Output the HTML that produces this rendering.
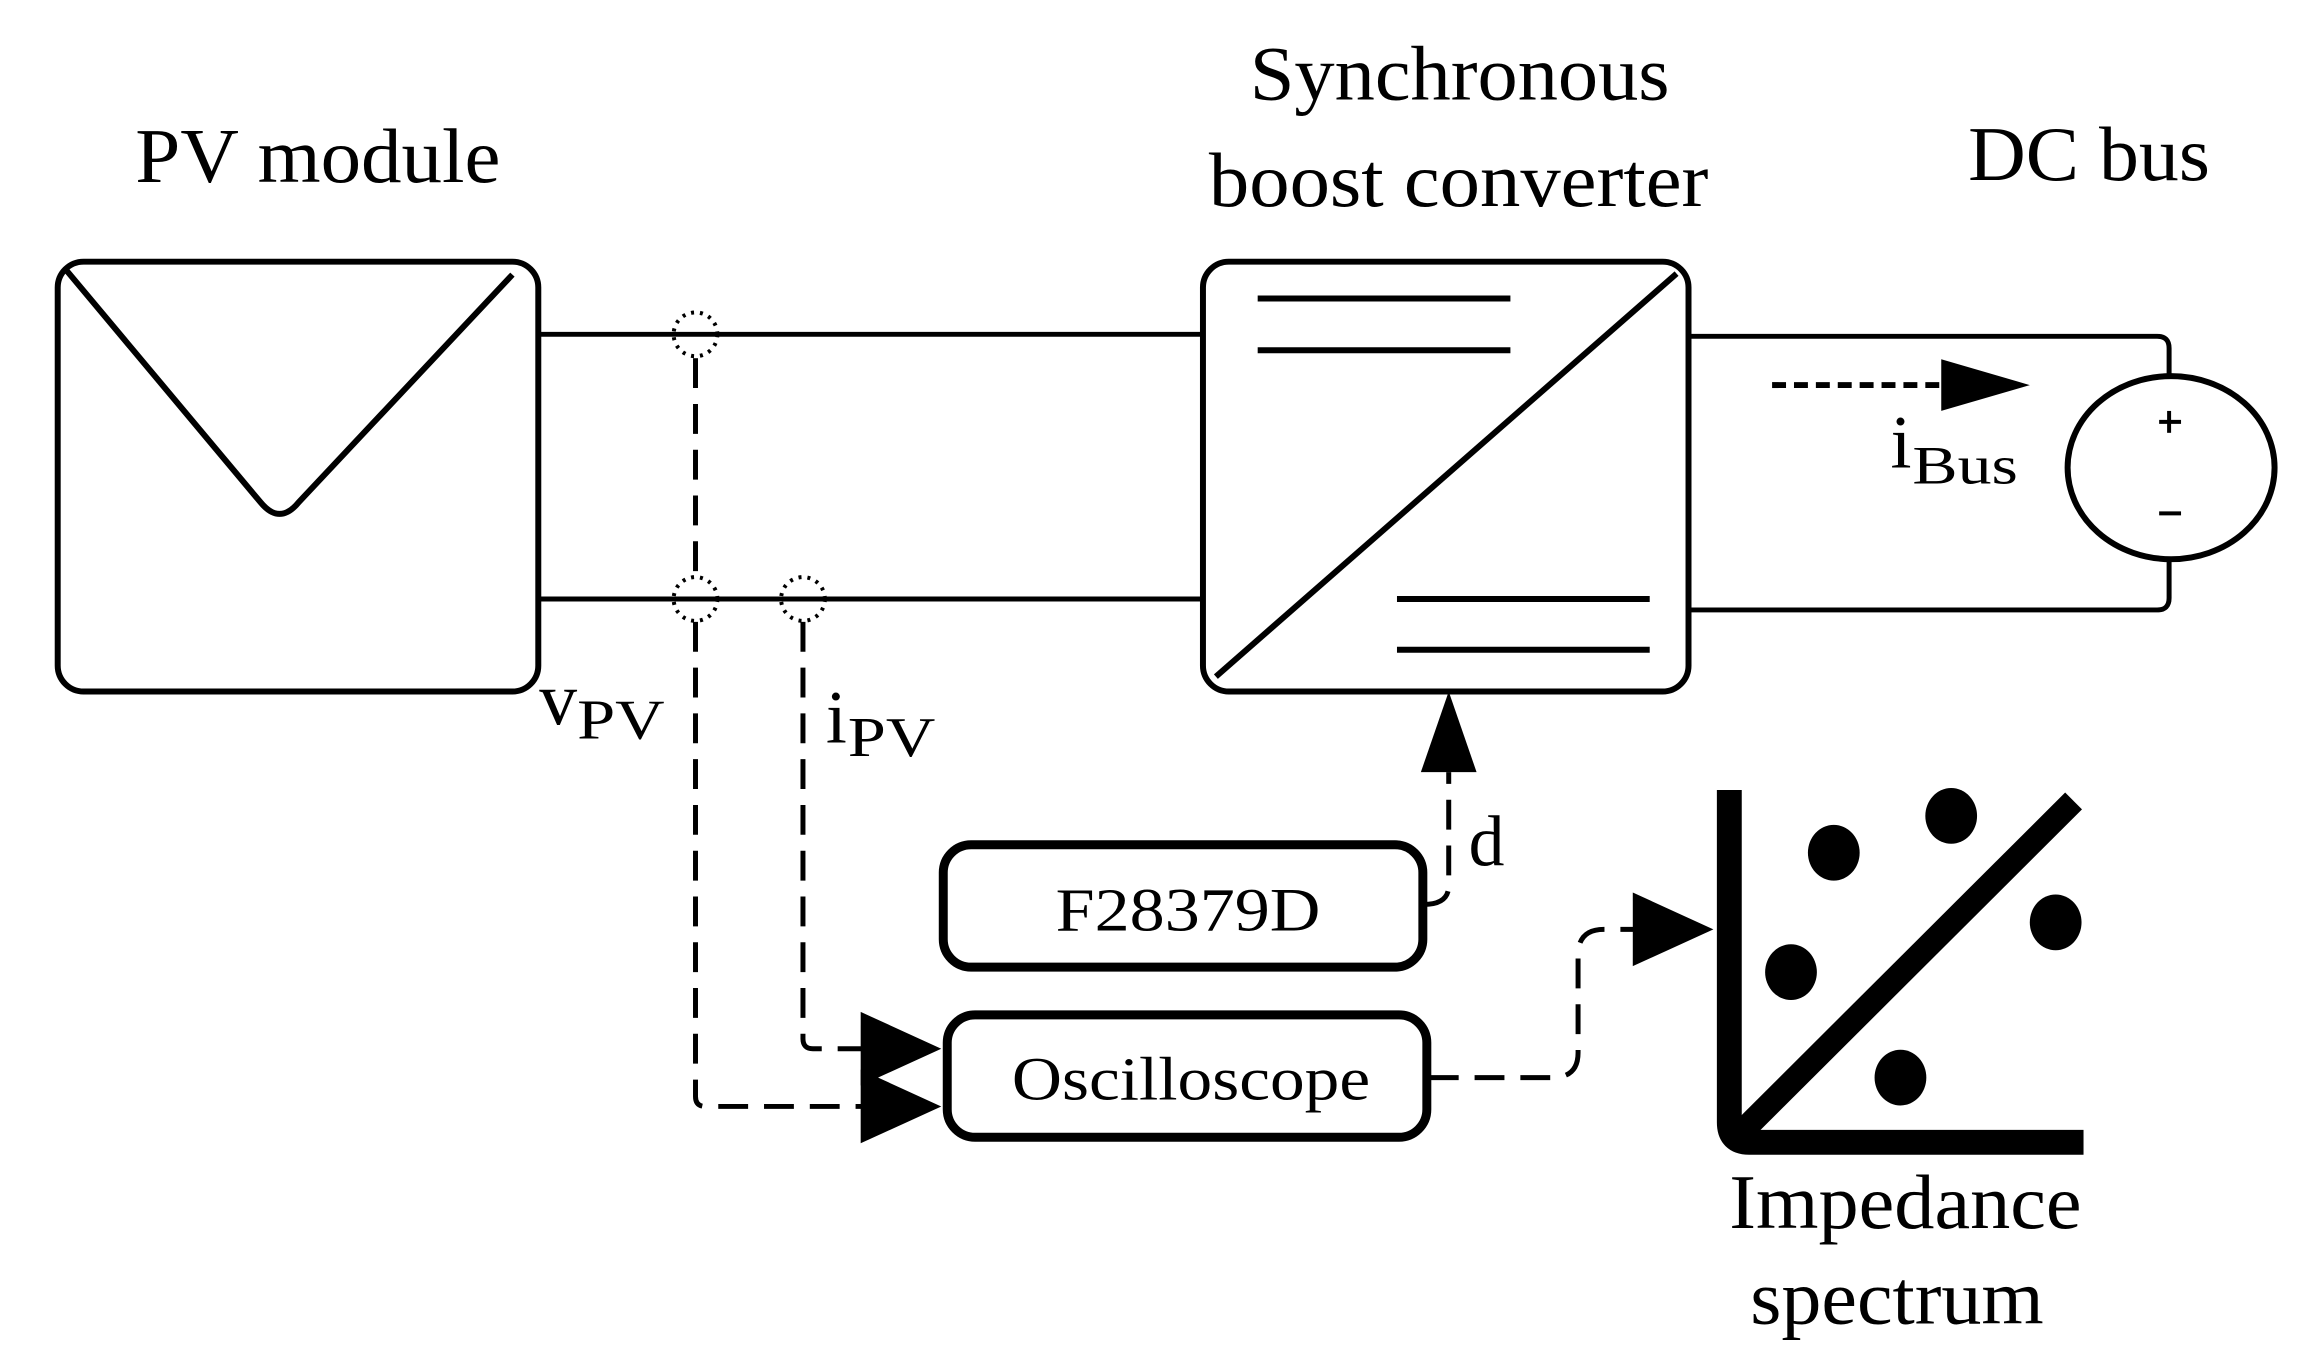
<!DOCTYPE html>
<html><head><meta charset="utf-8"><style>html,body{margin:0;padding:0;background:#fff}svg{display:block}</style></head>
<body>
<svg width="2306" height="1367" viewBox="0 0 2306 1367" xmlns="http://www.w3.org/2000/svg" font-family="Liberation Serif, serif">
<g transform="scale(0.995)">
<g fill="none" stroke="#000" stroke-width="6">
<rect x="58" y="263" width="483" height="432" rx="26"/>
<path d="M67 272 L262 505 Q281 528 300 505 L515 276" stroke-width="6"/>
<line x1="541" y1="336" x2="1209" y2="336" stroke-width="5"/>
<line x1="541" y1="602" x2="1209" y2="602" stroke-width="5"/>
<rect x="1209" y="263" width="488" height="432" rx="26"/>
<line x1="1222" y1="680" x2="1685" y2="275"/>
<line x1="1264" y1="300" x2="1518" y2="300"/>
<line x1="1264" y1="352" x2="1518" y2="352"/>
<line x1="1404" y1="602" x2="1658" y2="602"/>
<line x1="1404" y1="653" x2="1658" y2="653"/>
<path d="M1697 338 H2168 Q2180 338 2180 350 V378" stroke-width="5"/>
<path d="M1697 613 H2168 Q2180 613 2180 601 V562" stroke-width="5"/>
<ellipse cx="2182" cy="470" rx="104" ry="92"/>
<line x1="2170" y1="424" x2="2192" y2="424" stroke-width="4"/>
<line x1="2180" y1="413" x2="2180" y2="435" stroke-width="4"/>
<line x1="2170" y1="516" x2="2192" y2="516" stroke-width="4"/>
<line x1="1781" y1="387" x2="1955" y2="387" stroke-dasharray="14 8"/>
<g stroke-width="4" stroke-dasharray="3 6">
<circle cx="699" cy="336" r="22"/>
<circle cx="699" cy="602" r="22"/>
<circle cx="807" cy="602" r="22"/>
</g>
<path d="M699 360 V580" stroke-dasharray="30 16" stroke-width="5"/>
<path d="M699 625 V1102 Q699 1112 709 1112 H870" stroke-dasharray="30 16" stroke-width="5"/>
<path d="M807 625 V1044 Q807 1054 817 1054 H870" stroke-dasharray="30 16" stroke-width="5"/>
<rect x="948" y="849" width="482" height="123" rx="28" stroke-width="9"/>
<path d="M1431 909 Q1456 909 1456 890 V776" stroke-dasharray="30 16" stroke-width="5"/>
<rect x="952" y="1020" width="482" height="123" rx="28" stroke-width="9"/>
<path d="M1436 1083 H1560 Q1586 1083 1586 1058 V960 Q1586 934 1612 934 H1645" stroke-dasharray="30 16" stroke-width="5"/>
<path d="M1738 794 V1128 Q1738 1148 1758 1148 H2094" stroke-width="25"/>
<line x1="1748" y1="1140" x2="2084" y2="805" stroke-width="24"/>
</g>
<g fill="#000">
<polygon points="1951,361 2040,387 1951,413"/>
<polygon points="1428,776 1456,695 1484,776"/>
<polygon points="865,1017 946,1054 865,1091"/>
<polygon points="865,1075 946,1112 865,1149"/>
<polygon points="1641,897 1722,934 1641,971"/>
<ellipse cx="1843" cy="857" rx="26" ry="28"/>
<ellipse cx="1961" cy="820" rx="26" ry="28"/>
<ellipse cx="2066" cy="927" rx="26" ry="28"/>
<ellipse cx="1800" cy="977" rx="26" ry="28"/>
<ellipse cx="1910" cy="1083" rx="26" ry="28"/>
</g>
<g fill="#000" font-size="78">
<text x="136" y="183" textLength="367" lengthAdjust="spacingAndGlyphs">PV module</text>
<text x="1256" y="100" textLength="422" lengthAdjust="spacingAndGlyphs">Synchronous</text>
<text x="1215" y="207" textLength="502" lengthAdjust="spacingAndGlyphs">boost converter</text>
<text x="1978" y="181" textLength="243" lengthAdjust="spacingAndGlyphs">DC bus</text>
<text x="1738" y="1234" textLength="354" lengthAdjust="spacingAndGlyphs">Impedance</text>
<text x="1759" y="1330" textLength="295" lengthAdjust="spacingAndGlyphs">spectrum</text>
<text x="1476" y="870" font-size="72">d</text>
</g>
<g fill="#000" font-size="62">
<text x="1061" y="935" textLength="266" lengthAdjust="spacingAndGlyphs">F28379D</text>
<text x="1017" y="1105" textLength="360" lengthAdjust="spacingAndGlyphs">Oscilloscope</text>
</g>
<g fill="#000">
<text x="542" y="728" font-size="76">v</text>
<text x="580" y="742" font-size="56" textLength="88" lengthAdjust="spacingAndGlyphs">PV</text>
<text x="830" y="746" font-size="76">i</text>
<text x="852" y="760" font-size="56" textLength="88" lengthAdjust="spacingAndGlyphs">PV</text>
<text x="1900" y="470" font-size="76">i</text>
<text x="1922" y="486" font-size="54" textLength="106" lengthAdjust="spacingAndGlyphs">Bus</text>
</g>
</g>
</svg>
</body></html>
